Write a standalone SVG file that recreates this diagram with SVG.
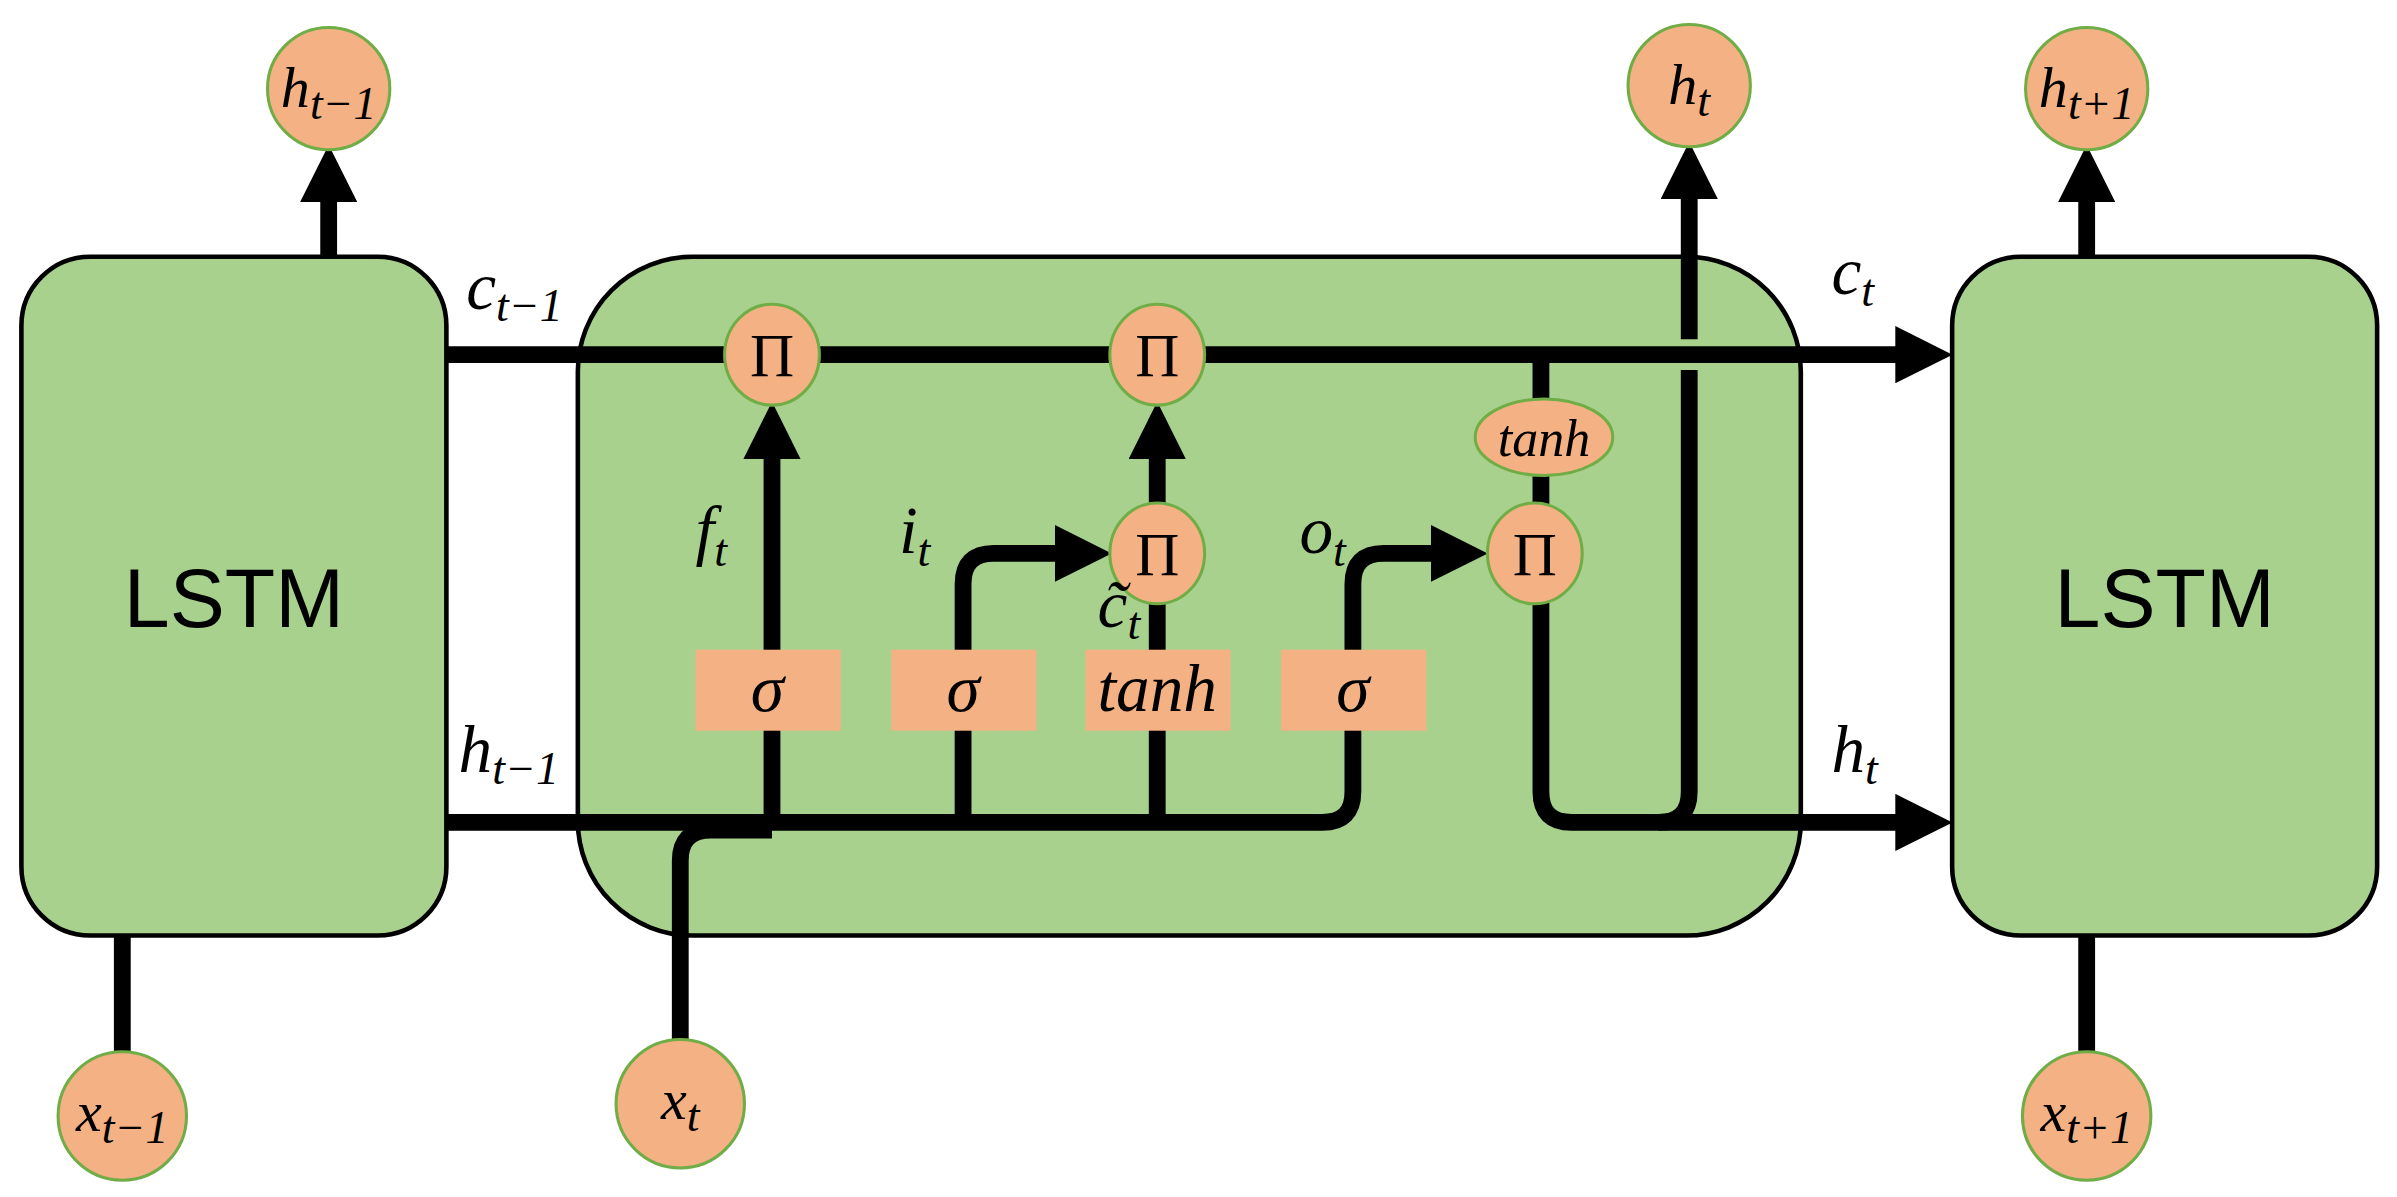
<svg xmlns="http://www.w3.org/2000/svg" width="2397" height="1197" viewBox="0 0 2397 1197">
<style>
.box{fill:#a9d18e;stroke:#000;stroke-width:3}
.op{fill:#f4b183;stroke:#70ad47;stroke-width:2}
.gate{fill:#f4b183;stroke:none}
.w{fill:none;stroke:#000;stroke-width:11}
.m{font-family:"Liberation Serif",serif;font-style:italic;font-size:44px;fill:#000}
.s{font-size:30px}
.pi{font-family:"Liberation Serif",serif;font-size:40px;text-anchor:middle;fill:#000}
.big{font-family:"Liberation Sans",sans-serif;font-size:54px;text-anchor:middle;fill:#000}
</style>
<defs><marker id="a" viewBox="0 0 10 10" refX="7" refY="5" markerWidth="3.4" markerHeight="3.4" orient="auto" markerUnits="strokeWidth"><path d="M0,0L10,5L0,10z" fill="#000"/></marker></defs>
<rect width="2397" height="1197" fill="#fff"/>
<g transform="scale(1.5287)">
<g id="lstm-left"><rect class="box" x="14" y="168" width="278" height="444" rx="45"/><text class="big" x="153" y="410">LSTM</text></g>
<g id="cell"><rect class="box" x="378" y="168" width="800" height="444" rx="75"/></g>
<g id="lstm-right"><rect class="box" x="1277" y="168" width="278" height="444" rx="45"/><text class="big" x="1416" y="410">LSTM</text></g>
<g id="conn">
<path class="w" d="M292,232H1266" marker-end="url(#a)"/>
<path class="w" d="M215,168V106" marker-end="url(#a)"/>
<path class="w" d="M1365,168V106" marker-end="url(#a)"/>
<path class="w" d="M80,612V690M1365,612V690"/>
<path class="w" d="M292,538H865Q885,538 885,518V382Q885,362 905,362H962" marker-end="url(#a)"/>
<path class="w" d="M445,682V563Q445,543 465,543H505"/>
<path class="w" d="M505,538V274" marker-end="url(#a)"/>
<path class="w" d="M630,538V382Q630,362 650,362H716" marker-end="url(#a)"/>
<path class="w" d="M757,538V394M757,330V274" marker-end="url(#a)"/>
<path class="w" d="M1008,232V262M1008,310V332"/>
<path class="w" d="M1008,394V518Q1008,538 1028,538H1266" marker-end="url(#a)"/>
<path class="w" d="M1085,538Q1105,538 1105,518V242M1105,222V104" marker-end="url(#a)"/>
</g>
<g id="ops">
<ellipse class="op" cx="505" cy="232" rx="31" ry="33"/><text class="pi" x="505" y="246">Π</text>
<ellipse class="op" cx="757" cy="232" rx="31" ry="33"/><text class="pi" x="757" y="246">Π</text>
<ellipse class="op" cx="757" cy="362" rx="31" ry="33"/><text class="pi" x="757" y="376">Π</text>
<ellipse class="op" cx="1004" cy="362" rx="31" ry="33"/><text class="pi" x="1004" y="376">Π</text>
<ellipse class="op" cx="1010" cy="286" rx="45" ry="25"/><text class="m" x="1010" y="298" text-anchor="middle" style="font-size:34px">tanh</text>
</g>
<g id="gates">
<rect class="gate" x="455" y="425" width="95" height="53"/><text class="m" x="502" y="465" text-anchor="middle">σ</text>
<rect class="gate" x="583" y="425" width="95" height="53"/><text class="m" x="630" y="465" text-anchor="middle">σ</text>
<rect class="gate" x="710" y="425" width="95" height="53"/><text class="m" x="757" y="465" text-anchor="middle">tanh</text>
<rect class="gate" x="838" y="425" width="95" height="53"/><text class="m" x="885" y="465" text-anchor="middle">σ</text>
</g>
<g id="io">
<circle class="op" cx="215" cy="58" r="40"/><text class="m" x="215" y="70" text-anchor="middle" style="font-size:38px">h<tspan class="s" dy="8">t−1</tspan></text>
<circle class="op" cx="1105" cy="56" r="40"/><text class="m" x="1105" y="68" text-anchor="middle" style="font-size:38px">h<tspan class="s" dy="8">t</tspan></text>
<circle class="op" cx="1365" cy="58" r="40"/><text class="m" x="1365" y="70" text-anchor="middle" style="font-size:38px">h<tspan class="s" dy="8">t+1</tspan></text>
<circle class="op" cx="80" cy="730" r="42"/><text class="m" x="80" y="740" text-anchor="middle" style="font-size:38px">x<tspan class="s" dy="8">t−1</tspan></text>
<circle class="op" cx="445" cy="722" r="42"/><text class="m" x="445" y="732" text-anchor="middle" style="font-size:38px">x<tspan class="s" dy="8">t</tspan></text>
<circle class="op" cx="1365" cy="730" r="42"/><text class="m" x="1365" y="740" text-anchor="middle" style="font-size:38px">x<tspan class="s" dy="8">t+1</tspan></text>
</g>
<g id="labels">
<text class="m" x="305" y="202">c<tspan class="s" dy="8">t−1</tspan></text>
<text class="m" x="1198" y="192">c<tspan class="s" dy="8">t</tspan></text>
<text class="m" x="300" y="505">h<tspan class="s" dy="8">t−1</tspan></text>
<text class="m" x="1198" y="505">h<tspan class="s" dy="8">t</tspan></text>
<text class="m" x="455" y="362">f<tspan class="s" dy="8">t</tspan></text>
<text class="m" x="588" y="362">i<tspan class="s" dy="8">t</tspan></text>
<text class="m" x="718" y="410">c̃<tspan class="s" dy="8">t</tspan></text>
<text class="m" x="850" y="362">o<tspan class="s" dy="8">t</tspan></text>
</g>
</g>
</svg>
